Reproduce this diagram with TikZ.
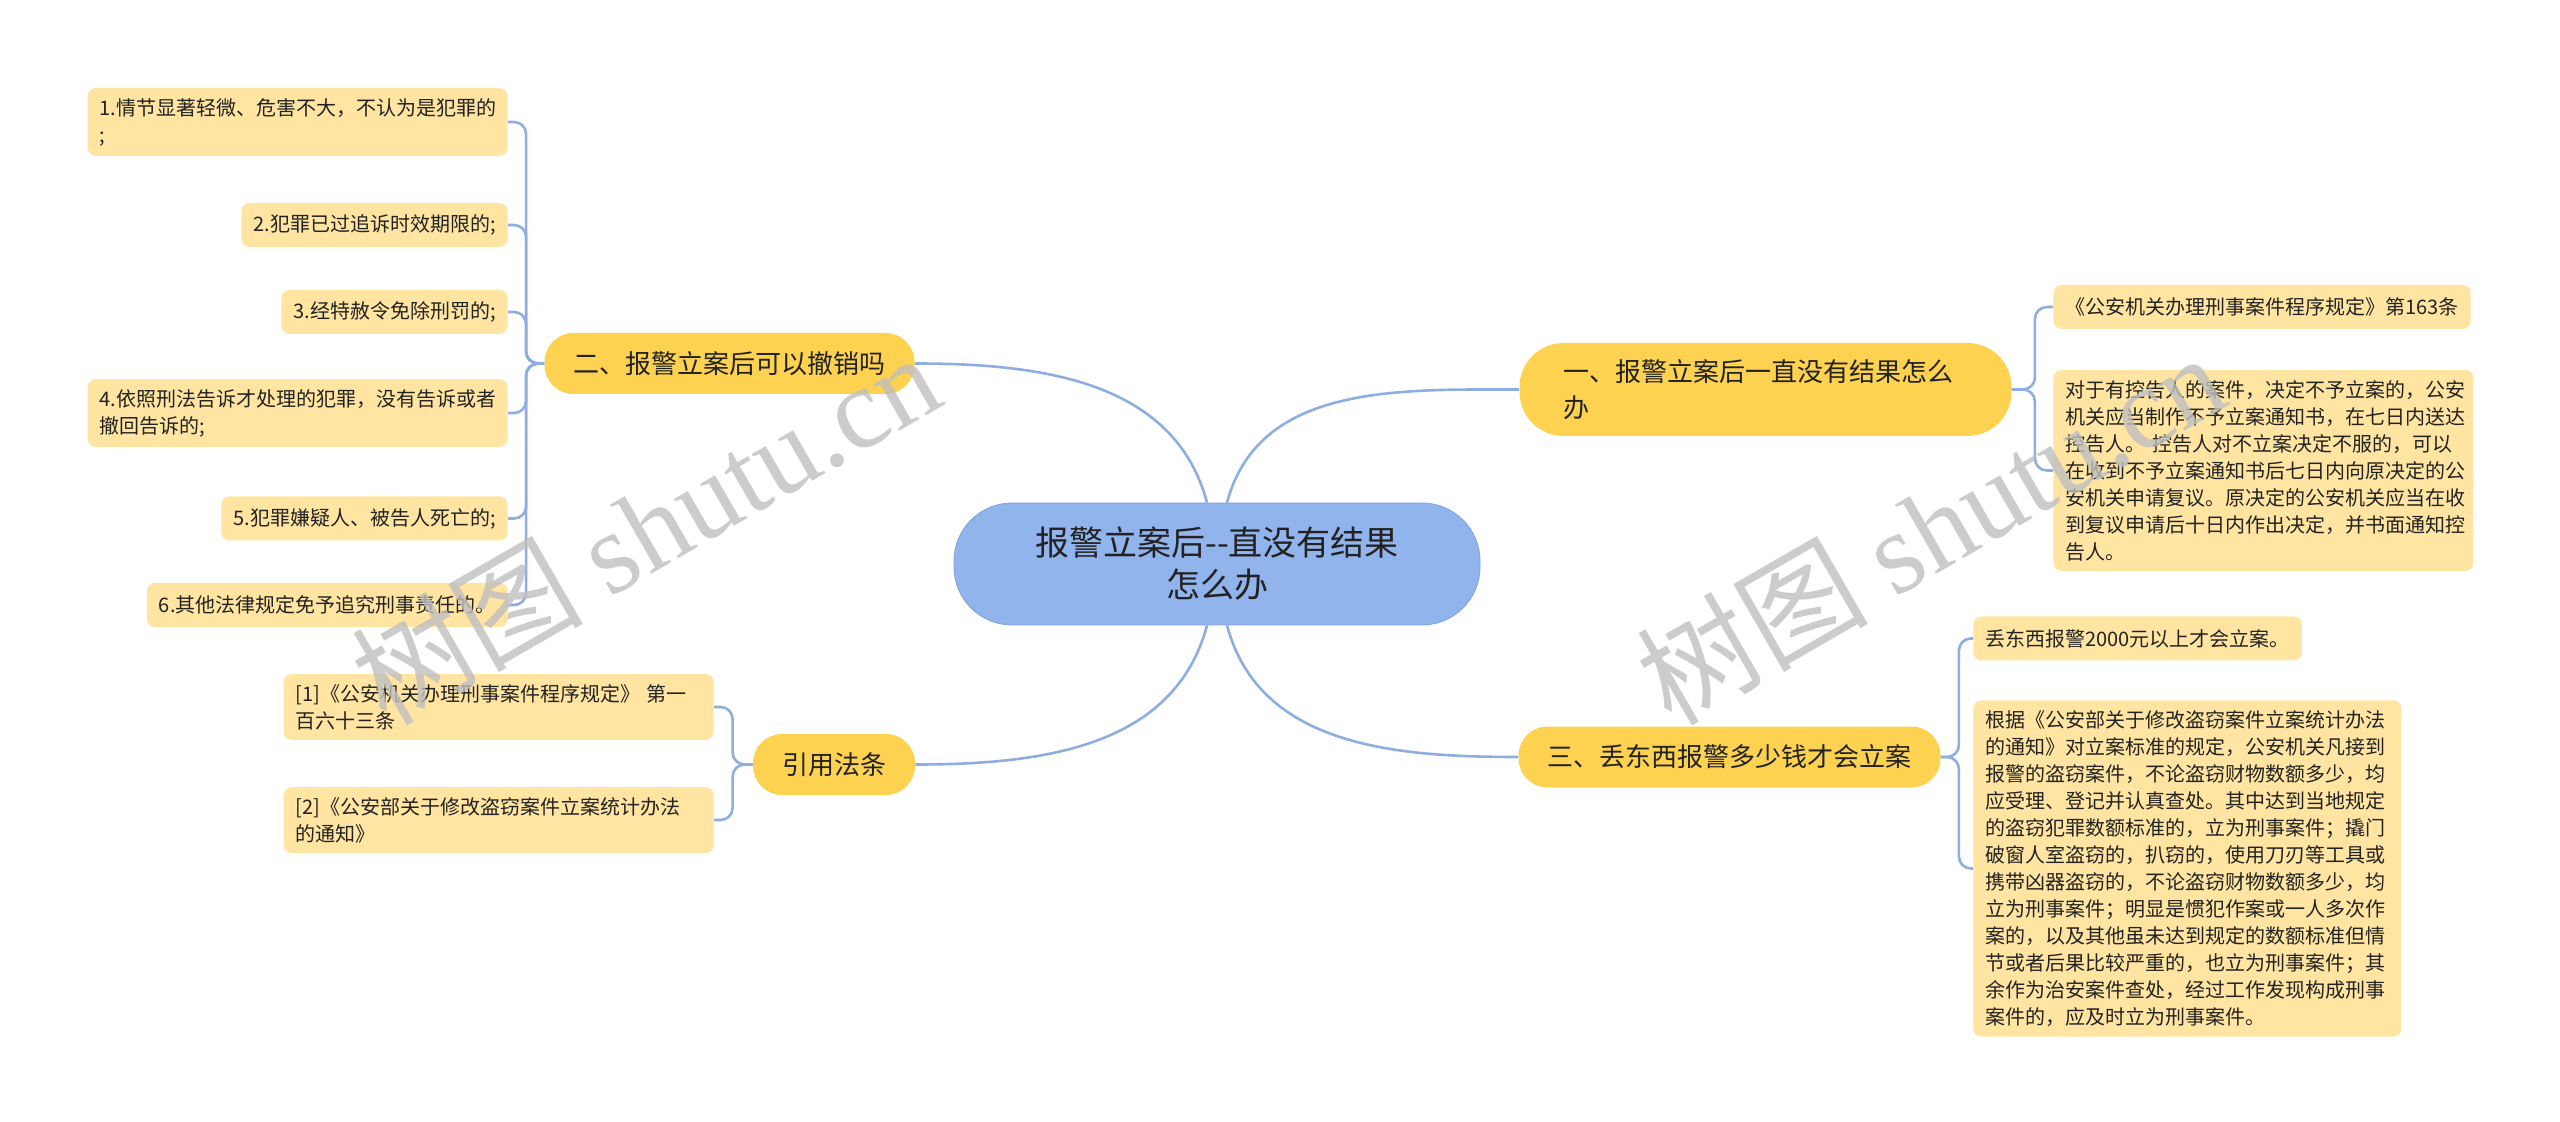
\documentclass[tikz,border=0pt]{standalone}
\usepackage{fontspec}
\setmainfont{Noto Sans CJK SC}
\newfontfamily\wmfont{Liberation Serif}
\usetikzlibrary{positioning}
\definecolor{rootfill}{HTML}{92B4EC}
\definecolor{rootline}{HTML}{7FA2DC}
\definecolor{topicfill}{HTML}{FDD250}
\definecolor{leaffill}{HTML}{FFE5A1}
\definecolor{linkc}{HTML}{8EADE0}
\definecolor{inkc}{HTML}{222222}
\tikzset{
  root/.style={
    fill=rootfill,
    draw=rootline,
    rounded corners=29pt,
    minimum width=263pt,
    minimum height=61pt,
    align=center,
    text=inkc,
    font=\fontsize{17}{21}\selectfont
  },
  topic/.style={
    fill=topicfill,
    rounded corners=14.5pt,
    minimum height=30.5pt,
    inner xsep=14.5pt,
    text=inkc,
    font=\fontsize{13}{17}\selectfont
  },
  leaf/.style={
    fill=leaffill,
    rounded corners=4pt,
    inner xsep=6pt,
    inner ysep=5pt,
    minimum height=22pt,
    align=left,
    text=inkc,
    font=\fontsize{10}{13.5}\selectfont
  },
  link/.style={
    draw=linkc,
    line width=1.3pt,
    rounded corners=6pt
  },
  wmtext/.style={
    text=black!25,
    text opacity=0.8,
    rotate=30,
    font=\fontsize{58}{60}\selectfont
  }
}
\begin{document}
\begin{tikzpicture}[x=0.5pt,y=-0.5pt]
  \useasboundingbox (0,0) rectangle (2560,1122);
  \node[root] (root) at (1217,564) {报警立案后-{}-直没有结果\\怎么办};
  \node[topic, text width=202pt, inner xsep=22pt, minimum height=46.5pt, rounded corners=22pt, align=left, font=\fontsize{13}{18}\selectfont] (b1) at (1765.5,389.5) {一、报警立案后一直没有结果怎么\\办};
  \node[topic] (b2) at (729.5,363.5) {二、报警立案后可以撤销吗};
  \node[topic] (b3) at (1729.5,757) {三、丢东西报警多少钱才会立案};
  \node[topic] (b4) at (834,764.5) {引用法条};

  \node[leaf, anchor=east, text width=198pt] (r1) at (508,122) {1.情节显著轻微、危害不大，不认为是犯罪的\\;};
  \node[leaf, anchor=east] (r2) at (508,225) {2.犯罪已过追诉时效期限的;};
  \node[leaf, anchor=east] (r3) at (508,312) {3.经特赦令免除刑罚的;};
  \node[leaf, anchor=east, text width=198pt] (r4) at (508,413) {4.依照刑法告诉才处理的犯罪，没有告诉或者\\撤回告诉的;};
  \node[leaf, anchor=east] (r5) at (508,518.5) {5.犯罪嫌疑人、被告人死亡的;};
  \node[leaf, anchor=east] (r6) at (508,605) {6.其他法律规定免予追究刑事责任的。};

  \node[leaf, anchor=east, text width=203pt] (s1) at (714,707) {[1]《公安机关办理刑事案件程序规定》 第一\\百六十三条};
  \node[leaf, anchor=east, text width=203pt] (s2) at (714,820) {[2]《公安部关于修改盗窃案件立案统计办法\\的通知》};

  \node[leaf, anchor=west] (p1) at (2053,307) {《公安机关办理刑事案件程序规定》第163条};
  \node[leaf, anchor=west, text width=198pt] (p2) at (2053,470.5) {对于有控告人的案件，决定不予立案的，公安\\机关应当制作不予立案通知书，在七日内送达\\控告人。 控告人对不立案决定不服的，可以\\在收到不予立案通知书后七日内向原决定的公\\安机关申请复议。原决定的公安机关应当在收\\到复议申请后十日内作出决定，并书面通知控\\告人。};

  \node[leaf, anchor=west] (q1) at (1973,638.5) {丢东西报警2000元以上才会立案。};
  \node[leaf, anchor=west, text width=202pt] (q2) at (1973,868.5) {根据《公安部关于修改盗窃案件立案统计办法\\的通知》对立案标准的规定，公安机关凡接到\\报警的盗窃案件，不论盗窃财物数额多少，均\\应受理、登记并认真查处。其中达到当地规定\\的盗窃犯罪数额标准的，立为刑事案件；撬门\\破窗人室盗窃的，扒窃的，使用刀刃等工具或\\携带凶器盗窃的，不论盗窃财物数额多少，均\\立为刑事案件；明显是惯犯作案或一人多次作\\案的，以及其他虽未达到规定的数额标准但情\\节或者后果比较严重的，也立为刑事案件；其\\余作为治安案件查处，经过工作发现构成刑事\\案件的，应及时立为刑事案件。};

  \draw[link] ([xshift=-5pt]root.north) to[out=105,in=0] (b2.east);
  \draw[link] ([xshift=5pt]root.north) to[out=75,in=180] (b1.west);
  \draw[link] ([xshift=5pt]root.south) to[out=-75,in=180] (b3.west);
  \draw[link] ([xshift=-5pt]root.south) to[out=-105,in=0] (b4.east);

  \foreach \n in {1,...,6}
    \draw[link] (b2.west) -- ++(-18,0) |- (r\n.east);
  \foreach \n in {1,2}{
    \draw[link] (b4.west) -- ++(-20,0) |- (s\n.east);
    \draw[link] (b1.east) -- ++(23,0) |- (p\n.west);
    \draw[link] (b3.east) -- ++(18,0) |- (q\n.west);
  }

  \node[wmtext] (wm1) at (645,527) {树图 {\wmfont shutu.cn}};
  \node[wmtext] (wm2) at (1930,527) {树图 {\wmfont shutu.cn}};
\end{tikzpicture}
\end{document}
